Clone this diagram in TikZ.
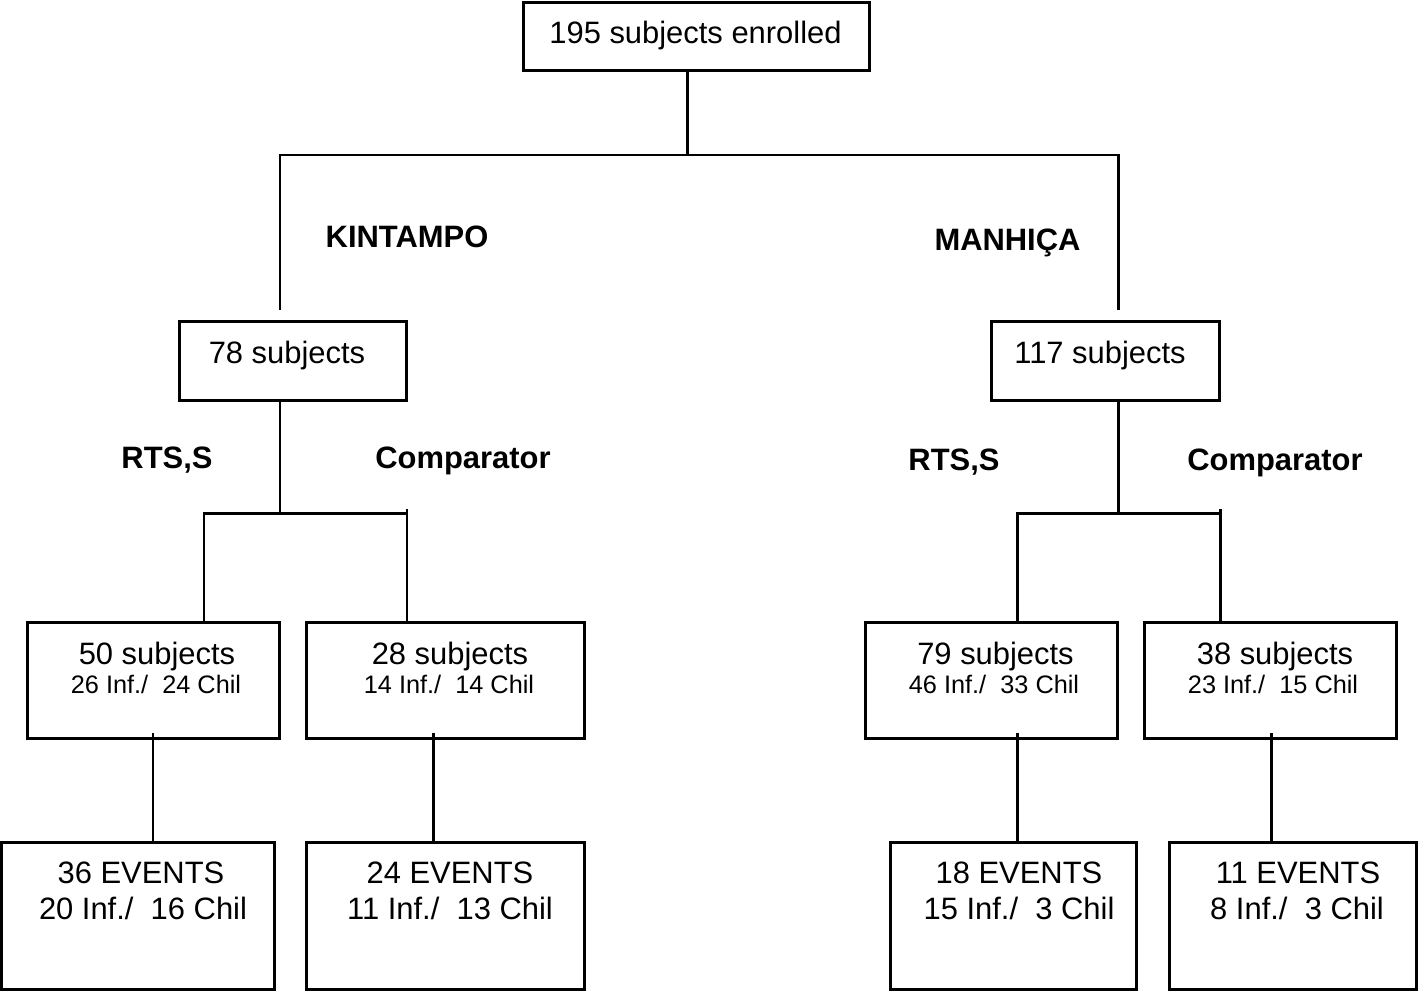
\documentclass[tikz,border=0pt]{standalone}
\usepackage{fontspec}
\setmainfont{Liberation Sans}
\tikzset{
  stage/.style={draw, rectangle, line width=1.7pt, inner sep=0pt},
  link/.style={line width=1.7pt},
  bigtext/.style={anchor=base, inner sep=0pt, font=\fontsize{17.6}{21}\selectfont},
  smalltext/.style={anchor=base, inner sep=0pt, font=\fontsize{14.4}{17}\selectfont},
  armtext/.style={anchor=base, inner sep=0pt, font=\fontsize{17.6}{21}\selectfont\bfseries},
}
\begin{document}
\begin{tikzpicture}[x=0.02cm, y=-0.02cm]
	\useasboundingbox (0,0) rectangle (1419,991);
	%boxes
	\node[stage, minimum width=6.92cm, minimum height=1.36cm] (top) at (696.5,36.5) {};
	\node[stage, minimum width=4.54cm, minimum height=1.58cm] (k78) at (293,361) {};
	\node[stage, minimum width=4.56cm, minimum height=1.58cm] (m117) at (1105.5,361) {};
	\node[stage, minimum width=5.04cm, minimum height=2.32cm] (k50) at (153.5,680.5) {};
	\node[stage, minimum width=5.56cm, minimum height=2.32cm] (k28) at (445.5,680.5) {};
	\node[stage, minimum width=5.04cm, minimum height=2.32cm] (m79) at (991.5,680.5) {};
	\node[stage, minimum width=5.04cm, minimum height=2.32cm] (m38) at (1270.5,680.5) {};
	\node[stage, minimum width=5.46cm, minimum height=2.94cm] (k36) at (138,916) {};
	\node[stage, minimum width=5.56cm, minimum height=2.94cm] (k24) at (445.5,916) {};
	\node[stage, minimum width=4.92cm, minimum height=2.94cm] (m18) at (1013.5,916) {};
	\node[stage, minimum width=4.94cm, minimum height=2.94cm] (m11) at (1293,916) {};
	%box texts
	\node[bigtext] (t195) at (695.5,43) {195 subjects enrolled};
	\node[bigtext] (t78) at (287,363) {78 subjects};
	\node[bigtext] (t117) at (1100,363) {117 subjects};
	\node[bigtext] (t50) at (157,664) {50 subjects};
	\node[smalltext] (t50s) at (156,693) {26 Inf./\ \ 24 Chil};
	\node[bigtext] (t28) at (450,664) {28 subjects};
	\node[smalltext] (t28s) at (449,693) {14 Inf./\ \ 14 Chil};
	\node[bigtext] (t79) at (995.5,664) {79 subjects};
	\node[smalltext] (t79s) at (994,693) {46 Inf./\ \ 33 Chil};
	\node[bigtext] (t38) at (1275,664) {38 subjects};
	\node[smalltext] (t38s) at (1273,693) {23 Inf./\ \ 15 Chil};
	\node[bigtext] (t36) at (141,883) {36 EVENTS};
	\node[bigtext] (t36s) at (143,919) {20 Inf./\ \ 16 Chil};
	\node[bigtext] (t24) at (450,883) {24 EVENTS};
	\node[bigtext] (t24s) at (450,919) {11 Inf./\ \ 13 Chil};
	\node[bigtext] (t18) at (1019,883) {18 EVENTS};
	\node[bigtext] (t18s) at (1019,919) {15 Inf./\ \ 3 Chil};
	\node[bigtext] (t11) at (1298,883) {11 EVENTS};
	\node[bigtext] (t11s) at (1297,919) {8 Inf./\ \ 3 Chil};
	%arm labels
	\node[armtext] (kin) at (407,247) {KINTAMPO};
	\node[armtext] (man) at (1007.5,250) {MANHIÇA};
	\node[armtext] (kRtsLab) at (167,468) {RTS,S};
	\node[armtext] (kCmpLab) at (463,468) {Comparator};
	\node[armtext] (mRtsLab) at (954,470) {RTS,S};
	\node[armtext] (mCmpLab) at (1275,470) {Comparator};
	%junctions
	\coordinate (hub) at (687,155);
	\coordinate (kTop) at (280,310);
	\coordinate (mTop) at (1118,310);
	\coordinate (kSplit) at (280,513);
	\coordinate (kRts) at (204,513);
	\coordinate (kCmp) at (407,509);
	\coordinate (mSplit) at (1118,513);
	\coordinate (mRts) at (1017,513);
	\coordinate (mCmp) at (1220,509);
	\coordinate (kDropA) at (153,733);
	\coordinate (kDropB) at (433,733);
	\coordinate (mDropA) at (1017,733);
	\coordinate (mDropB) at (1271,733);
	%lines
	\draw[link] (top.south -| hub) -- (hub);
	\draw[link] (kTop) -- (kTop |- hub) -- (mTop |- hub) -- (mTop);
	\draw[link] (k78.south -| kSplit) -- (kSplit);
	\draw[link] (k50.north -| kRts) -- (kRts) -- (kRts -| kCmp);
	\draw[link] (kCmp) -- (k28.north -| kCmp);
	\draw[link] (m117.south -| mSplit) -- (mSplit);
	\draw[link] (m79.north -| mRts) -- (mRts) -- (mRts -| mCmp);
	\draw[link] (mCmp) -- (m38.north -| mCmp);
	\draw[link] (kDropA) -- (k36.north -| kDropA);
	\draw[link] (kDropB) -- (k24.north -| kDropB);
	\draw[link] (mDropA) -- (m18.north -| mDropA);
	\draw[link] (mDropB) -- (m11.north -| mDropB);
\end{tikzpicture}
\end{document}
